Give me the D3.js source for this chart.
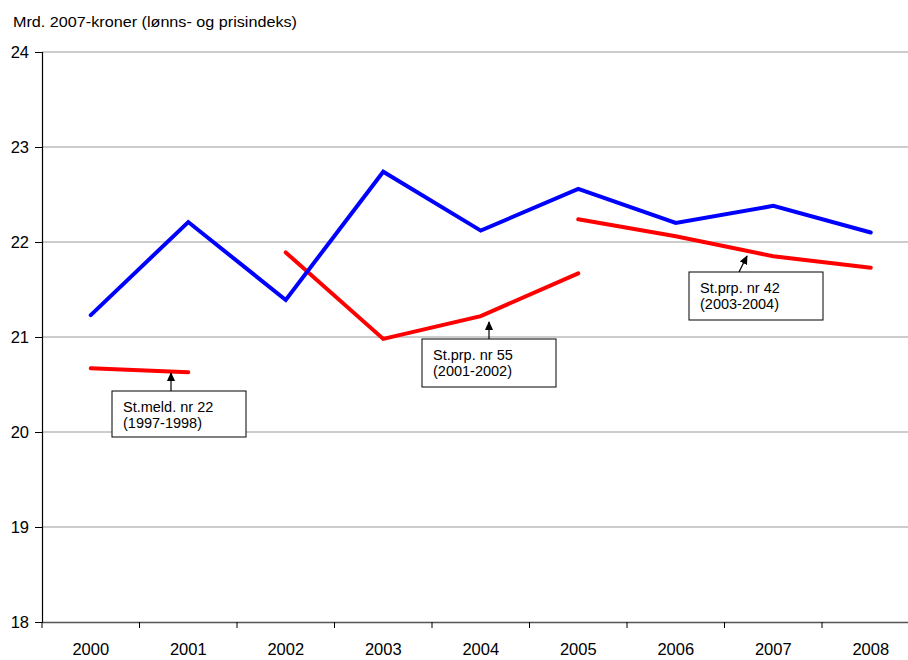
<!DOCTYPE html>
<html><head><meta charset="utf-8">
<script src="https://cdn.jsdelivr.net/npm/d3@7"></script>
<style>body{margin:0;background:#fff}svg{display:block}text{font-family:"Liberation Sans",Arial,sans-serif;fill:#000}</style>
</head><body><svg id="c" width="908" height="660"></svg>
<script>
const years = ["2000","2001","2002","2003","2004","2005","2006","2007","2008"];
const actual = [21.23, 22.21, 21.39, 22.74, 22.12, 22.56, 22.20, 22.38, 22.10];
const stmeld22 = [20.67, 20.63, null, null, null, null, null, null, null];
const stprp55 = [null, null, 21.89, 20.98, 21.22, 21.67, null, null, null];
const stprp42 = [null, null, null, null, null, 22.24, 22.06, 21.85, 21.73];
const yTicks = [18, 19, 20, 21, 22, 23, 24];
const yTitle = "Mrd. 2007-kroner (lønns- og prisindeks)";
const notes = [
  {lines:["St.meld. nr 22","(1997-1998)"], box:[112,391,134,46], arrow:[171,391,171,373]},
  {lines:["St.prp. nr 55","(2001-2002)"], box:[422,339,134,48], arrow:[489,339,489,322]},
  {lines:["St.prp. nr 42","(2003-2004)"], box:[689,272,134,48], arrow:[739,272,747,256]}
];

const svg = d3.select("#c");
const L = 42, R = 919.5, T = 52, B = 622;
const x = d3.scaleBand().domain(years).range([L, R]);
const y = d3.scaleLinear().domain([18, 24]).range([B, T]);
const cx = d => x(d) + x.bandwidth()/2;
const FF = '"Liberation Sans",Arial,sans-serif';

// gridlines
svg.append("g").selectAll("line").data(yTicks.filter(t => t > 18)).join("line")
  .attr("x1", L).attr("x2", R).attr("y1", d => y(d)).attr("y2", d => y(d))
  .attr("stroke", "#999").attr("stroke-width", 1.2);

// y axis
const ya = svg.append("g").attr("transform", `translate(${L},0)`)
  .call(d3.axisLeft(y).tickValues(yTicks).tickSize(7).tickPadding(6).tickFormat(d3.format("d")));
ya.select(".domain").attr("stroke", "#000").attr("stroke-width", 1.2);
ya.selectAll(".tick line").attr("stroke", "#000");
ya.selectAll("text").attr("font-size", 16.5).style("font-family", FF);

// x axis
const xa = svg.append("g").attr("transform", `translate(0,${B})`)
  .call(d3.axisBottom(x).tickSize(0).tickPadding(21));
xa.select(".domain").attr("stroke", "#555").attr("stroke-width", 1.6);
xa.selectAll("text").attr("font-size", 16.5).style("font-family", FF);
svg.append("g").selectAll("line").data(years).join("line")
  .attr("x1", d => x(d)).attr("x2", d => x(d)).attr("y1", B).attr("y2", B + 6)
  .attr("stroke", "#000");

// y title
svg.append("text").attr("x", 13).attr("y", 27).attr("font-size", 14.5)
  .attr("textLength", 284).attr("lengthAdjust", "spacingAndGlyphs").text(yTitle);

// lines
const line = d3.line().defined(d => d.v != null).x(d => cx(d.k)).y(d => y(d.v));
const draw = (vals, color) => svg.append("path")
  .datum(years.map((k, i) => ({k, v: vals[i]})))
  .attr("d", line).attr("fill", "none").attr("stroke", color)
  .attr("stroke-width", 4).attr("stroke-linejoin", "miter").attr("stroke-linecap", "round");
draw(stmeld22, "#ff0000");
draw(stprp55, "#ff0000");
draw(stprp42, "#ff0000");
draw(actual, "#0000ff");

// annotations
svg.append("defs").append("marker").attr("id", "ah").attr("viewBox", "0 0 10 10")
  .attr("refX", 9).attr("refY", 5).attr("markerWidth", 9).attr("markerHeight", 9)
  .attr("markerUnits", "userSpaceOnUse").attr("orient", "auto")
  .append("path").attr("d", "M0,0.5L10,5L0,9.5Z").attr("fill", "#000");
notes.forEach(n => {
  const [bx, by, bw, bh] = n.box;
  svg.append("rect").attr("x", bx).attr("y", by).attr("width", bw).attr("height", bh)
    .attr("fill", "#fff").attr("stroke", "#000").attr("stroke-width", 1);
  svg.append("line").attr("x1", n.arrow[0]).attr("y1", n.arrow[1]).attr("x2", n.arrow[2]).attr("y2", n.arrow[3])
    .attr("stroke", "#000").attr("stroke-width", 1.2).attr("marker-end", "url(#ah)");
  n.lines.forEach((t, i) => svg.append("text").attr("x", bx + 11).attr("y", by + 21 + i * 16)
    .attr("font-size", 14.5).text(t));
});
</script></body></html>
